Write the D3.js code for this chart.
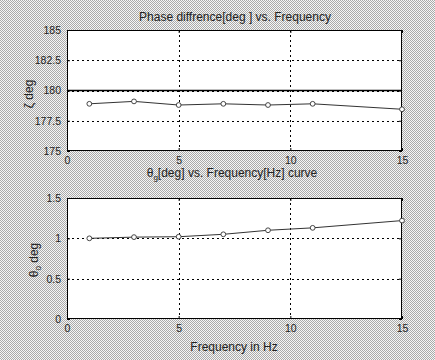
<!DOCTYPE html>
<html><head><meta charset="utf-8">
<script src="https://cdn.jsdelivr.net/npm/d3@7"></script>
<style>html,body{margin:0;padding:0;background:#fff}svg{display:block}</style>
</head><body>
<div id="chart"></div>
<script>
// ---- data ----
const freq = [1, 3, 5, 7, 9, 11, 15];
const phaseDiff = [178.9, 179.1, 178.8, 178.9, 178.8, 178.9, 178.45];
const thetaDeg = [1.0, 1.015, 1.02, 1.05, 1.10, 1.13, 1.22];
const refPhase = [180];
const xTicks = [0, 5, 10, 15];
const yTicksTop = [175, 177.5, 180, 182.5, 185];
const yTicksBot = [0, 0.5, 1, 1.5];

const W = 435, H = 360;
const svg = d3.select("#chart").append("svg").attr("width", W).attr("height", H);
const defs = svg.append("defs");
const pat = defs.append("pattern").attr("id", "dither").attr("width", 2).attr("height", 2)
  .attr("patternUnits", "userSpaceOnUse");
pat.append("rect").attr("width", 2).attr("height", 2).attr("fill", "#f6f6f6");
pat.append("rect").attr("x", 0).attr("y", 0).attr("width", 1).attr("height", 1).attr("fill", "#aaaaaa");
pat.append("rect").attr("x", 1).attr("y", 1).attr("width", 1).attr("height", 1).attr("fill", "#aaaaaa");
svg.append("rect").attr("width", W).attr("height", H).attr("fill", "url(#dither)").attr("shape-rendering", "crispEdges");

const font = "'Liberation Sans', Arial, sans-serif";
const L = 67, R = 402;
const x = d3.scaleLinear().domain([0, 15]).range([L, R]);

function panel(top, bottom, yDomain, yTicks, yFmt, values, refs) {
  const y = d3.scaleLinear().domain(yDomain).range([bottom, top]);
  const g = svg.append("g");
  g.append("rect").attr("x", L).attr("y", top).attr("width", R - L).attr("height", bottom - top)
    .attr("fill", "#fff");
  // grid
  const gg = g.append("g").attr("stroke", "#000").attr("stroke-width", 1).attr("stroke-dasharray", "2,3")
    .attr("shape-rendering", "crispEdges");
  yTicks.slice(1, -1).forEach(v => gg.append("line").attr("x1", L).attr("x2", R)
    .attr("y1", Math.round(y(v)) + 0.5).attr("y2", Math.round(y(v)) + 0.5));
  xTicks.slice(1, -1).forEach(v => gg.append("line").attr("y1", top).attr("y2", bottom)
    .attr("x1", Math.round(x(v)) + 0.5).attr("x2", Math.round(x(v)) + 0.5));
  // reference lines
  refs.forEach(v => g.append("line").attr("x1", L).attr("x2", R).attr("y1", y(v)).attr("y2", y(v))
    .attr("stroke", "#000").attr("stroke-width", 1.6));
  // axes (ticks inward)
  const ax = d3.axisBottom(x).tickValues(xTicks).tickSize(-3).tickPadding(6).tickFormat(d3.format("d"));
  const axT = d3.axisTop(x).tickValues(xTicks).tickSize(-3).tickFormat("");
  const ay = d3.axisLeft(y).tickValues(yTicks).tickSize(-3).tickPadding(6).tickFormat(yFmt);
  const ayR = d3.axisRight(y).tickValues(yTicks).tickSize(-3).tickFormat("");
  const gx = g.append("g").attr("transform", `translate(0,${bottom})`).call(ax);
  const gxT = g.append("g").attr("transform", `translate(0,${top})`).call(axT);
  const gy = g.append("g").attr("transform", `translate(${L},0)`).call(ay);
  const gyR = g.append("g").attr("transform", `translate(${R},0)`).call(ayR);
  [gx, gxT, gy, gyR].forEach(a => {
    a.select(".domain").remove();
    a.selectAll("line").attr("stroke", "#000");
    a.selectAll("text").attr("font-family", font).attr("font-size", 10.5).attr("fill", "#222");
  });
  g.append("rect").attr("x", L + 0.5).attr("y", top + 0.5).attr("width", R - L - 1).attr("height", bottom - top - 1)
    .attr("fill", "none").attr("stroke", "#000").attr("stroke-width", 1).attr("shape-rendering", "crispEdges");
  // data
  const line = d3.line().x((d, i) => x(freq[i])).y(d => y(d));
  g.append("path").datum(values).attr("d", line).attr("fill", "none").attr("stroke", "#333").attr("stroke-width", 1);
  g.selectAll("circle.m").data(values).join("circle").attr("class", "m")
    .attr("cx", (d, i) => x(freq[i])).attr("cy", d => y(d)).attr("r", 2.4)
    .attr("fill", "#fff").attr("stroke", "#333").attr("stroke-width", 0.9);
  return y;
}

panel(30, 151, [175, 185], yTicksTop, d => d3.format("~g")(d), phaseDiff, refPhase);
panel(198, 319, [0, 1.5], yTicksBot, d => d3.format("~g")(d), thetaDeg, []);

// titles and labels
svg.append("text").attr("x", 235).attr("y", 21).attr("text-anchor", "middle")
  .attr("font-family", font).attr("font-size", 12).attr("fill", "#222")
  .text("Phase diffrence[deg ] vs. Frequency");
const t2 = svg.append("text").attr("x", 232).attr("y", 177).attr("text-anchor", "middle")
  .attr("font-family", font).attr("font-size", 12).attr("fill", "#222");
t2.append("tspan").text("θ");
t2.append("tspan").attr("font-size", 8).attr("dy", 3).text("g");
t2.append("tspan").attr("dy", -3).text("[deg] vs. Frequency[Hz] curve");

svg.append("text").attr("transform", "translate(33,94) rotate(-90)").attr("text-anchor", "middle")
  .attr("font-family", font).attr("font-size", 12).attr("fill", "#222").text("ζ deg");
const yl2 = svg.append("text").attr("transform", "translate(38,260) rotate(-90)").attr("text-anchor", "middle")
  .attr("font-family", font).attr("font-size", 12).attr("fill", "#222");
yl2.append("tspan").text("θ");
yl2.append("tspan").attr("font-size", 8).attr("dy", 3).text("0");
yl2.append("tspan").attr("dy", -3).text(" deg");

svg.append("text").attr("x", 234).attr("y", 351).attr("text-anchor", "middle")
  .attr("font-family", font).attr("font-size", 12).attr("fill", "#222").text("Frequency in Hz");
</script>
</body></html>
